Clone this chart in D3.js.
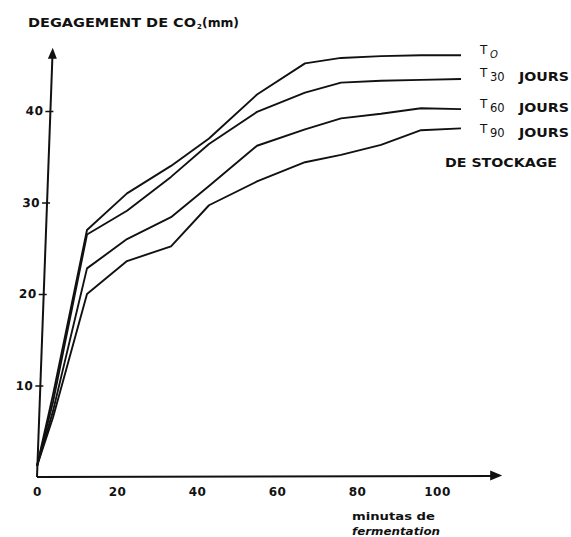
<!DOCTYPE html>
<html lang="fr">
<head>
    <meta charset="UTF-8">
    <title>Dégagement de CO2</title>
    <script src="https://d3js.org/d3.v7.min.js"></script>
    <style>
        body {
            margin: 0;
            background: #fff;
            font-family: "DejaVu Sans", "Liberation Sans", Arial, sans-serif;
        }
        .curve {
            fill: none;
            stroke: #111;
            stroke-width: 1.9;
            stroke-linejoin: round;
        }
        .axisline {
            stroke: #111;
            stroke-width: 2;
        }
        text {
            fill: #111;
            font-weight: bold;
        }
    </style>
</head>
<body>
    <div id="chart"></div>
    <script>
        // data
        var minutes = [0, 4, 12.5, 22.5, 33.5, 43, 55, 67, 76, 86, 96, 106];
        var t0Values  = [1.2, 9.0, 27.0, 31.0, 34.0, 37.0, 41.8, 45.2, 45.8, 46.0, 46.1, 46.1];
        var t30Values = [1.2, 8.2, 26.5, 29.1, 32.8, 36.4, 39.9, 42.0, 43.1, 43.3, 43.4, 43.5];
        var t60Values = [1.2, 7.2, 22.8, 26.0, 28.4, 31.8, 36.2, 38.0, 39.2, 39.7, 40.3, 40.2];
        var t90Values = [1.2, 6.5, 20.0, 23.6, 25.2, 29.7, 32.3, 34.4, 35.2, 36.3, 37.9, 38.1];
        var seriesSubs = ["O", "30", "60", "90"];
        var xTicks = [0, 20, 40, 60, 80, 100];
        var yTicks = [10, 20, 30, 40];

        var series = [t0Values, t30Values, t60Values, t90Values];

        var W = 571, H = 537;
        var font = "'DejaVu Sans', 'Liberation Sans', Arial, sans-serif";
        var svg = d3.select("#chart").append("svg")
            .attr("width", W)
            .attr("height", H);

        var x = d3.scaleLinear().domain([0, 100]).range([37, 437]);
        var y = d3.scaleLinear().domain([0, 40]).range([477, 111]);

        // the drawn y axis leans slightly to the right
        var lean = 2.1;
        var yAxisTop = 46.9, xAxisEnd = 116.3;

        // Y axis
        var yg = svg.append("g")
            .attr("transform", "translate(" + x(0) + "," + y(0) + ") skewX(" + (-lean) + ") translate(0," + (-y(0)) + ")");
        yg.append("line")
            .attr("class", "axisline")
            .attr("x1", 0).attr("y1", y(0))
            .attr("x2", 0).attr("y2", y(yAxisTop) + 6);
        yg.append("path")
            .attr("d", "M0," + y(yAxisTop) + "L-4.5," + (y(yAxisTop) + 11) + "L4.5," + (y(yAxisTop) + 11) + "Z")
            .attr("fill", "#111");
        var yAxis = yg.append("g")
            .call(d3.axisLeft(y).tickValues(yTicks).tickSize(5).tickPadding(2).tickFormat(d3.format("d")));
        yAxis.select(".domain").remove();
        yAxis.selectAll(".tick line").attr("x1", 3).attr("stroke", "#111").attr("stroke-width", 1.6);
        yAxis.selectAll(".tick text")
            .style("font-family", font)
            .style("font-size", "12px")
            .style("font-weight", "bold")
            .style("letter-spacing", "0.5px")
            .attr("fill", "#111");

        // X axis
        svg.append("line")
            .attr("class", "axisline")
            .attr("x1", x(0)).attr("y1", y(0))
            .attr("x2", x(xAxisEnd) - 6).attr("y2", y(0) - 1);
        svg.append("path")
            .attr("d", "M" + x(xAxisEnd) + "," + (y(0) - 1.5) + "L" + (x(xAxisEnd) - 12) + "," + (y(0) - 6.5) + "L" + (x(xAxisEnd) - 12) + "," + (y(0) + 3.5) + "Z")
            .attr("fill", "#111");
        var xAxis = svg.append("g")
            .attr("transform", "translate(0," + y(0) + ")")
            .call(d3.axisBottom(x).tickValues(xTicks).tickSize(0).tickPadding(10).tickFormat(d3.format("d")));
        xAxis.select(".domain").remove();
        xAxis.selectAll(".tick text")
            .style("font-family", font)
            .style("font-size", "12px")
            .style("font-weight", "bold")
            .style("letter-spacing", "0.5px")
            .attr("fill", "#111");

        // curves
        var line = d3.line()
            .x(function(d, i) { return x(minutes[i]); })
            .y(function(d) { return y(d); });

        svg.selectAll(".curve")
            .data(series)
            .enter().append("path")
            .attr("class", "curve")
            .attr("d", line);

        // series labels
        var labelBase = [58, 81, 112, 137];
        var labels = svg.selectAll(".lab")
            .data(seriesSubs)
            .enter().append("g")
            .attr("class", "lab");
        labels.append("text")
            .attr("x", 480)
            .attr("y", function(d, i) { return labelBase[i] - 4; })
            .style("font-size", "12px")
            .style("font-weight", "normal")
            .text("T");
        labels.append("text")
            .attr("x", 490)
            .attr("y", function(d, i) { return labelBase[i]; })
            .style("font-size", function(d, i) { return i === 0 ? "10px" : "11.5px"; })
            .style("font-style", function(d, i) { return i === 0 ? "italic" : "normal"; })
            .style("font-weight", "normal")
            .text(function(d) { return d; });
        labels.filter(function(d, i) { return i > 0; })
            .append("text")
            .attr("x", 519)
            .attr("y", function(d) { return labelBase[seriesSubs.indexOf(d)]; })
            .attr("textLength", 50)
            .attr("lengthAdjust", "spacingAndGlyphs")
            .style("font-size", "11.5px")
            .text("JOURS");

        svg.append("text")
            .attr("x", 445).attr("y", 167)
            .attr("textLength", 112)
            .attr("lengthAdjust", "spacingAndGlyphs")
            .style("font-size", "12px")
            .text("DE STOCKAGE");

        // title
        svg.append("text")
            .attr("x", 28).attr("y", 27)
            .attr("textLength", 168)
            .attr("lengthAdjust", "spacingAndGlyphs")
            .style("font-size", "12px")
            .text("DEGAGEMENT DE CO");
        svg.append("text")
            .attr("x", 197).attr("y", 29)
            .style("font-size", "7px")
            .text("2");
        svg.append("text")
            .attr("x", 202).attr("y", 27)
            .attr("textLength", 37)
            .attr("lengthAdjust", "spacingAndGlyphs")
            .style("font-size", "11.5px")
            .text("(mm)");

        // x axis caption
        svg.append("text")
            .attr("x", 352).attr("y", 520)
            .attr("textLength", 83)
            .attr("lengthAdjust", "spacingAndGlyphs")
            .style("font-size", "11px")
            .text("minutas de");
        svg.append("text")
            .attr("x", 352).attr("y", 535)
            .attr("textLength", 88)
            .attr("lengthAdjust", "spacingAndGlyphs")
            .style("font-size", "11px")
            .style("font-style", "italic")
            .text("fermentation");
    </script>
</body>
</html>
